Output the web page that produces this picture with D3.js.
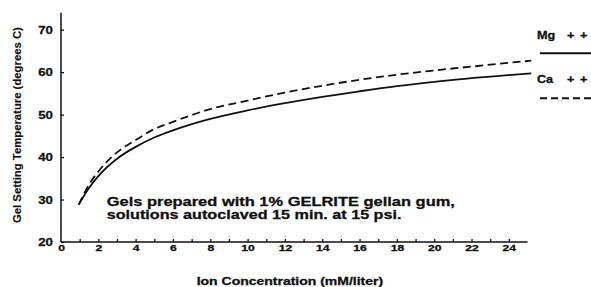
<!DOCTYPE html>
<html><head><meta charset="utf-8">
<script src="https://cdn.jsdelivr.net/npm/d3@7"></script>
<style>
html,body{margin:0;padding:0;background:#fff;}
svg text{font-family:"Liberation Sans",Arial,Helvetica,sans-serif;font-weight:bold;fill:#111;stroke:#111;stroke-width:0.3px;}
</style></head>
<body>
<svg id="chart" width="591" height="287"></svg>
<script>
// ---- data ----
const concentration = [0.95, 1.5, 2, 3, 4, 5, 6, 8, 10, 12, 14, 16, 18, 20, 22, 24, 25.2];
const mgTemp = [28.8, 32.7, 35.5, 39.6, 42.4, 44.6, 46.3, 49.0, 51.0, 52.7, 54.2, 55.5, 56.7, 57.7, 58.6, 59.3, 59.7];
const caTemp = [28.8, 33.5, 36.6, 41.1, 44.0, 46.6, 48.3, 51.3, 53.3, 55.2, 56.8, 58.2, 59.4, 60.4, 61.3, 62.2, 62.7];
const seriesNames = ["Mg + +", "Ca + +"];
const xTickLabels = [0, 2, 4, 6, 8, 10, 12, 14, 16, 18, 20, 22, 24];
const xMinorTicks = d3.range(1, 25, 1);
const yTickLabels = [20, 30, 40, 50, 60, 70];
const noteLines = ["Gels prepared with 1% GELRITE gellan gum,", "solutions autoclaved 15 min. at 15 psi."];
const xTitle = "Ion Concentration (mM/liter)";
const yTitle = "Gel Setting Temperature (degrees C)";

const svg = d3.select("#chart");
const ink = "#111";

const x = d3.scaleLinear().domain([0, 25]).range([61, 527.5]);
const y = d3.scaleLinear().domain([20, 74]).range([242, 12.7]);

function fitWidth(sel, w) {
  const len = sel.node().getComputedTextLength();
  return w / len;
}

// ---- axes ----
const gx = svg.append("g").attr("transform", `translate(0,${y(20)})`)
  .call(d3.axisBottom(x).tickValues(xMinorTicks).tickSize(-3).tickFormat(""));
gx.select(".domain").attr("stroke", ink).attr("stroke-width", 1.5).attr("d", `M${x(0)},0H${x(25)}`);
gx.selectAll(".tick line").attr("stroke", ink).attr("stroke-width", 1.3);

const gxl = svg.append("g").attr("transform", `translate(0,${y(20)})`)
  .call(d3.axisBottom(x).tickValues(xTickLabels).tickSize(0).tickPadding(3).tickFormat(d3.format("d")));
gxl.select(".domain").remove();
gxl.selectAll(".tick text").attr("font-size", 9).attr("font-family", null).attr("fill", ink)
  .attr("transform", "scale(1.35,1)");

const gy = svg.append("g").attr("transform", `translate(${x(0)},0)`)
  .call(d3.axisLeft(y).tickValues(yTickLabels).tickSize(-3).tickPadding(7).tickFormat(d3.format("d")));
gy.select(".domain").attr("stroke", ink).attr("stroke-width", 1.5).attr("d", `M0,${y(74)}V${y(20)}`);
gy.selectAll(".tick line").attr("stroke", ink).attr("stroke-width", 1.3);
gy.selectAll(".tick text").attr("font-size", 11.5).attr("font-family", null).attr("fill", ink)
  .attr("transform", "scale(1.15,1)");

// ---- lines ----
const mgData = concentration.map((c, i) => [c, mgTemp[i]]);
const caData = concentration.map((c, i) => [c, caTemp[i]]);
const line = d3.line().x(d => x(d[0])).y(d => y(d[1])).curve(d3.curveMonotoneX);

svg.append("path").datum(mgData).attr("d", line)
  .attr("fill", "none").attr("stroke", ink).attr("stroke-width", 1.8);
svg.append("path").datum(caData).attr("d", line)
  .attr("fill", "none").attr("stroke", ink).attr("stroke-width", 1.8)
  .attr("stroke-dasharray", "8,4.5");

// ---- annotation ----
const noteX = 106.7, noteBase = [206, 219], noteEnd = [455, 401.7];
noteLines.forEach((t, i) => {
  const tx = svg.append("text").attr("font-size", 12.8).text(t);
  const s = fitWidth(tx, noteEnd[i] - noteX);
  tx.attr("transform", `translate(${noteX},${noteBase[i]}) scale(${s},1)`);
});

// ---- axis titles ----
const xt = svg.append("text").attr("font-size", 10.5).text(xTitle);
xt.attr("transform", `translate(196.7,284.5) scale(${fitWidth(xt, 186.6)},1)`);

const yt = svg.append("text").attr("font-size", 10.5).style("stroke-width", "0.15px").text(yTitle);
yt.attr("transform", `translate(20.7,223) rotate(-90) scale(${fitWidth(yt, 196)},1)`);

// ---- legend ----
const legendRows = [
  { name: seriesNames[0], textY: 39.3, lineY: 53.3, dash: null },
  { name: seriesNames[1], textY: 83.3, lineY: 98.3, dash: "7,4" }
];
legendRows.forEach(r => {
  const parts = r.name.split(" ");
  const xs = [537, 567, 580];
  parts.forEach((p, j) => {
    svg.append("text").attr("x", xs[j]).attr("y", r.textY).attr("font-size", 11)
      .attr("transform", `translate(${xs[j]},0) scale(1.15,1) translate(${-xs[j]},0)`).text(p);
  });
  const ln = svg.append("line").attr("x1", 540).attr("x2", 600)
    .attr("y1", r.lineY).attr("y2", r.lineY).attr("stroke", ink).attr("stroke-width", 2);
  if (r.dash) ln.attr("stroke-dasharray", r.dash);
});
</script>
</body></html>
